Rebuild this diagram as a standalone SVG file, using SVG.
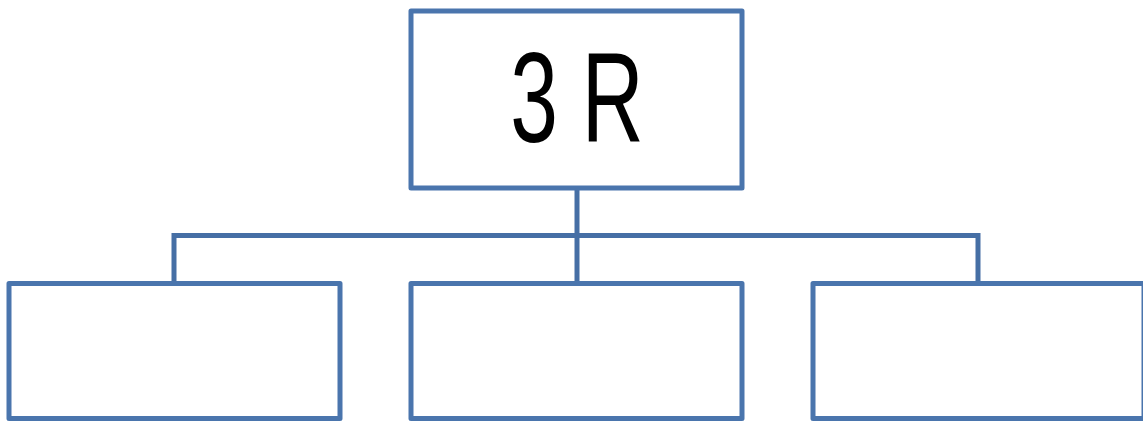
<svg xmlns="http://www.w3.org/2000/svg" width="1143" height="423" viewBox="0 0 1143 423">
  <style>
    .box { fill: #ffffff; stroke: #4A75AD; stroke-width: 5; stroke-linejoin: round; }
    .conn { fill: none; stroke: #466FA5; stroke-width: 5; }
    .label { font-family: "Liberation Sans", Arial, sans-serif; font-size: 128px; fill: #000000; text-anchor: middle; }
  </style>
  <rect width="1143" height="423" fill="#ffffff"/>
  <g id="connectors">
    <line class="conn" x1="577" y1="188" x2="577" y2="283"/>
    <polyline class="conn" points="174,283 174,235.5 978,235.5 978,283"/>
  </g>
  <g id="node-top">
    <rect class="box" x="411" y="11" width="331" height="177"/>
    <text class="label" transform="translate(577,142) scale(0.67,1)">3 R</text>
  </g>
  <g id="node-left">
    <rect class="box" x="9" y="283.5" width="331" height="135"/>
  </g>
  <g id="node-middle">
    <rect class="box" x="411" y="283.5" width="331" height="135"/>
  </g>
  <g id="node-right">
    <rect class="box" x="813" y="283.5" width="331" height="135"/>
  </g>
</svg>
